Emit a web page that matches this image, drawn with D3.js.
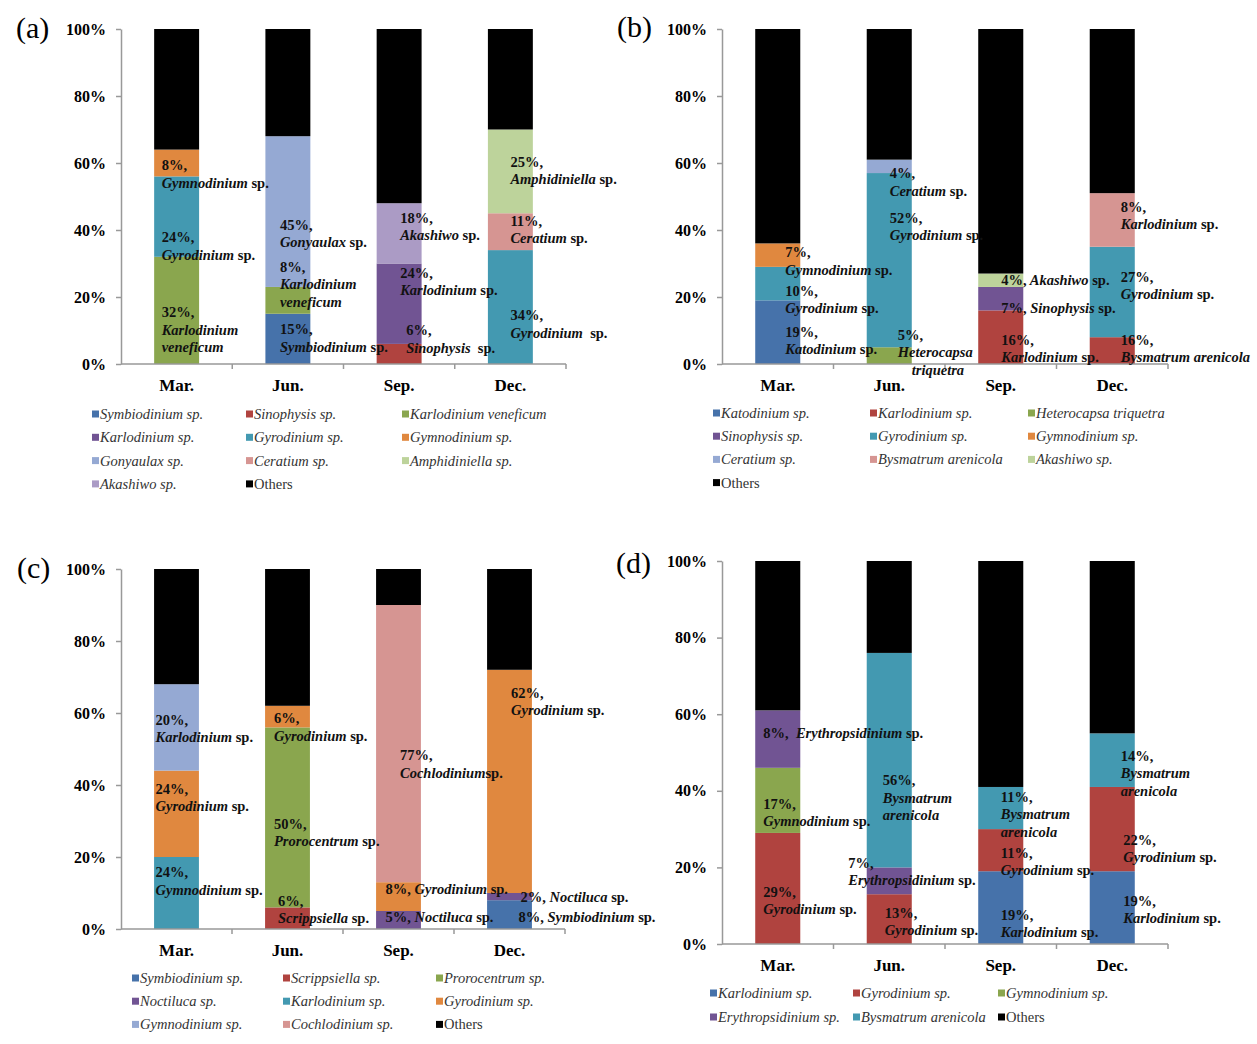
<!DOCTYPE html>
<html>
<head>
<meta charset="utf-8">
<script src="https://cdn.jsdelivr.net/npm/d3@7"></script>
<style>
  body { margin: 0; background: #fff; }
  text { font-family: "Liberation Serif", "Times New Roman", serif; white-space: pre; }
</style>
</head>
<body>
<svg id="chart" width="1257" height="1044"></svg>
<script>
// categories and axis ticks
const months = ["Mar.", "Jun.", "Sep.", "Dec."];
const yTicks = [0, 20, 40, 60, 80, 100];

// (a) one row per species, one value per month (%)
const speciesA = ["Symbiodinium sp.", "Sinophysis sp.", "Karlodinium veneficum", "Karlodinium sp.",
  "Gyrodinium sp.", "Gymnodinium sp.", "Gonyaulax sp.", "Ceratium sp.", "Amphidiniella sp.",
  "Akashiwo sp.", "Others"];
const valuesA = [
  [0, 15, 0, 0],
  [0, 0, 6, 0],
  [32, 8, 0, 0],
  [0, 0, 24, 0],
  [24, 0, 0, 34],
  [8, 0, 0, 0],
  [0, 45, 0, 0],
  [0, 0, 0, 11],
  [0, 0, 0, 25],
  [0, 0, 18, 0],
  [36, 32, 52, 30]
];

// (b)
const speciesB = ["Katodinium sp.", "Karlodinium sp.", "Heterocapsa triquetra", "Sinophysis sp.",
  "Gyrodinium sp.", "Gymnodinium sp.", "Ceratium sp.", "Bysmatrum arenicola", "Akashiwo sp.", "Others"];
const valuesB = [
  [19, 0, 0, 0],
  [0, 0, 16, 8],
  [0, 5, 0, 0],
  [0, 0, 7, 0],
  [10, 52, 0, 27],
  [7, 0, 0, 0],
  [0, 4, 0, 0],
  [0, 0, 0, 16],
  [0, 0, 4, 0],
  [64, 39, 73, 49]
];

// (c)
const speciesC = ["Symbiodinium sp.", "Scrippsiella sp.", "Prorocentrum sp.", "Noctiluca sp.",
  "Karlodinium sp.", "Gyrodinium sp.", "Gymnodinium sp.", "Cochlodinium sp.", "Others"];
const valuesC = [
  [0, 0, 0, 8],
  [0, 6, 0, 0],
  [0, 50, 0, 0],
  [0, 0, 5, 2],
  [20, 0, 0, 0],
  [24, 6, 8, 62],
  [24, 0, 0, 0],
  [0, 0, 77, 0],
  [32, 38, 10, 28]
];

// (d)
const speciesD = ["Karlodinium sp.", "Gyrodinium sp.", "Gymnodinium sp.", "Erythropsidinium sp.",
  "Bysmatrum arenicola", "Others"];
const valuesD = [
  [0, 0, 19, 19],
  [29, 13, 11, 22],
  [17, 0, 0, 0],
  [15, 7, 0, 0],
  [0, 56, 11, 14],
  [39, 24, 59, 45]
];

// label text placed on the bars: month index, level (%) of first line, lines
const notesA = [
  { m: 0, at: 59.4, dx: -15, lines: ["8%,", "Gymnodinium sp."] },
  { m: 0, at: 37.9, dx: -15, lines: ["24%,", "Gyrodinium sp."] },
  { m: 0, at: 15.5, dx: -15, lines: ["32%,", "Karlodinium", "veneficum"] },
  { m: 1, at: 41.5, dx: -8, lines: ["45%,", "Gonyaulax sp."] },
  { m: 1, at: 29.0, dx: -8, lines: ["8%,", "Karlodinium", "veneficum"] },
  { m: 1, at: 10.4, dx: -8, lines: ["15%,", "Symbiodinium sp."] },
  { m: 2, at: 43.6, dx: 1, lines: ["18%,", "Akashiwo sp."] },
  { m: 2, at: 27.2, dx: 1, lines: ["24%,", "Karlodinium sp."] },
  { m: 2, at: 10.1, dx: 7, lines: ["6%,", "Sinophysis  sp."] },
  { m: 3, at: 60.3, dx: 0, lines: ["25%,", "Amphidiniella sp."] },
  { m: 3, at: 42.7, dx: 0, lines: ["11%,", "Ceratium sp."] },
  { m: 3, at: 14.6, dx: 0, lines: ["34%,", "Gyrodinium  sp."] }
];
const notesB = [
  { m: 0, at: 33.4, dx: 7.5, lines: ["7%,", "Gymnodinium sp."] },
  { m: 0, at: 21.8, dx: 7.5, lines: ["10%,", "Gyrodinium sp."] },
  { m: 0, at: 9.6, dx: 7.5, lines: ["19%,", "Katodinium sp."] },
  { m: 1, at: 57.0, dx: 0.5, lines: ["4%,", "Ceratium sp."] },
  { m: 1, at: 43.6, dx: 0.5, lines: ["52%,", "Gyrodinium sp."] },
  { m: 1, at: 8.7, dx: 8.5, lines: ["5%,", "Heterocapsa", { t: "triquetra", dx: 14 }] },
  { m: 2, at: 25.1, dx: 0.5, lines: ["4%, Akashiwo sp."] },
  { m: 2, at: 16.7, dx: 0.5, lines: ["7%, Sinophysis sp."] },
  { m: 2, at: 7.2, dx: 0.5, lines: ["16%,", "Karlodinium sp."] },
  { m: 3, at: 46.9, dx: 8.5, lines: ["8%,", "Karlodinium sp."] },
  { m: 3, at: 26.0, dx: 8.5, lines: ["27%,", "Gyrodinium sp."] },
  { m: 3, at: 7.2, dx: 8.5, lines: ["16%,", "Bysmatrum arenicola"] }
];
const notesC = [
  { m: 0, at: 58.1, dx: -21, lines: ["20%,", "Karlodinium sp."] },
  { m: 0, at: 38.9, dx: -21, lines: ["24%,", "Gyrodinium sp."] },
  { m: 0, at: 15.8, dx: -21, lines: ["24%,", "Gymnodinium sp."] },
  { m: 1, at: 58.6, dx: -13.5, lines: ["6%,", "Gyrodinium sp."] },
  { m: 1, at: 29.2, dx: -13.5, lines: ["50%,", "Prorocentrum sp."] },
  { m: 1, at: 7.8, dx: -9.5, lines: ["6%,", "Scrippsiella sp."] },
  { m: 2, at: 48.3, dx: 1.5, lines: ["77%,", "Cochlodiniumsp."] },
  { m: 2, at: 11.1, dx: -13, lines: ["8%, Gyrodinium sp."] },
  { m: 2, at: 3.3, dx: -13, lines: ["5%, Noctiluca sp."] },
  { m: 3, at: 65.6, dx: 1.5, lines: ["62%,", "Gyrodinium sp."] },
  { m: 3, at: 8.9, dx: 11, lines: ["2%, Noctiluca sp."] },
  { m: 3, at: 3.3, dx: 9, lines: ["8%, Symbiodinium sp."] }
];
const notesD = [
  { m: 0, at: 55.1, dx: -14.5, lines: ["8%,  Erythropsidinium sp."] },
  { m: 0, at: 36.6, dx: -14.5, lines: ["17%,", "Gymnodinium sp."] },
  { m: 0, at: 13.6, dx: -14.5, lines: ["29%,", "Gyrodinium sp."] },
  { m: 1, at: 42.8, dx: -6.5, lines: ["56%,", "Bysmatrum", "arenicola"] },
  { m: 1, at: 21.2, dx: -41, lines: ["7%,", "Erythropsidinium sp."] },
  { m: 1, at: 8.2, dx: -4.5, lines: ["13%,", "Gyrodinium sp."] },
  { m: 2, at: 38.4, dx: 0, lines: ["11%,", "Bysmatrum", "arenicola"] },
  { m: 2, at: 23.8, dx: 0, lines: ["11%,", "Gyrodinium sp."] },
  { m: 2, at: 7.6, dx: 0, lines: ["19%,", "Karlodinium sp."] },
  { m: 3, at: 49.1, dx: 8.5, lines: ["14%,", "Bysmatrum", "arenicola"] },
  { m: 3, at: 27.2, dx: 11, lines: ["22%,", "Gyrodinium sp."] },
  { m: 3, at: 11.3, dx: 11, lines: ["19%,", "Karlodinium sp."] }
];

// series colours in legend order, Others is black
const palette = ["#4672AA", "#B0433F", "#8AA64E", "#715493", "#4399B1", "#E0883F",
  "#95A9D3", "#D69592", "#BDD39B", "#AB9BC5"];
const axisColor = "#999";

const panels = [
  { tag: "(a)", species: speciesA, values: valuesA, notes: notesA,
    box: { left: 121, right: 566, top: 29, bottom: 364 }, tagPos: [16, 38],
    legend: { cols: [92, 246, 402], y: 414, step: 23.3 } },
  { tag: "(b)", species: speciesB, values: valuesB, notes: notesB,
    box: { left: 722, right: 1168, top: 29, bottom: 364 }, tagPos: [617, 37],
    legend: { cols: [713, 870, 1028], y: 413, step: 23.2 } },
  { tag: "(c)", species: speciesC, values: valuesC, notes: notesC,
    box: { left: 121, right: 565, top: 569, bottom: 929 }, tagPos: [17, 578],
    legend: { cols: [132, 283, 436], y: 978, step: 23.2 } },
  { tag: "(d)", species: speciesD, values: valuesD, notes: notesD,
    box: { left: 722, right: 1168, top: 561, bottom: 944 }, tagPos: [616, 573],
    legend: { cols: [710, 853, 998], y: 993, step: 24 } }
];

const svg = d3.select("#chart");

// split "8%, Gymnodinium sp." into upright / italic pieces
function pieces(s) {
  const out = [];
  let rest = s;
  const pct = rest.match(/^(\d+%,)(.*)$/);
  if (pct) { out.push([pct[1], false]); rest = pct[2]; }
  const end = rest.match(/^(.*?)(sp\.?)$/);
  if (end) {
    if (end[1]) out.push([end[1], true]);
    out.push([end[2], false]);
  } else if (rest) {
    out.push([rest, true]);
  }
  return out;
}

panels.forEach(p => {
  const g = svg.append("g");
  const b = p.box;

  const x = d3.scaleBand().domain(months).range([b.left, b.right])
    .paddingInner(0.596).paddingOuter(0.298);
  const y = d3.scaleLinear().domain([0, 100]).range([b.bottom, b.top]);
  const color = (s, j) => s === "Others" ? "#000" : palette[j];

  const rows = months.map((m, i) => {
    const r = { month: m };
    p.species.forEach((s, j) => { r[s] = p.values[j][i]; });
    return r;
  });
  const series = d3.stack().keys(p.species)(rows);

  // bars
  g.selectAll("g.layer")
    .data(series)
    .enter()
    .append("g")
    .attr("fill", (d, j) => color(d.key, j))
    .selectAll("rect")
    .data(d => d.filter(v => v[1] - v[0] > 0))
    .enter()
    .append("rect")
    .attr("x", d => x(d.data.month))
    .attr("y", d => y(d[1]))
    .attr("width", x.bandwidth())
    .attr("height", d => y(d[0]) - y(d[1]));

  // y axis
  const ya = g.append("g")
    .attr("transform", `translate(${b.left},0)`)
    .call(d3.axisLeft(y).tickValues(yTicks).tickSize(5).tickSizeOuter(0).tickPadding(10)
      .tickFormat(d => d + "%"));
  ya.selectAll("path, line").attr("stroke", axisColor).attr("stroke-width", 1.5);
  ya.selectAll("text").attr("fill", "#000").attr("font-size", 16).attr("font-weight", "bold")
    .attr("font-family", '"Liberation Serif", serif');

  // x axis: line, ticks between categories, month labels
  const y0 = y(0);
  g.append("line")
    .attr("x1", b.left).attr("x2", b.right).attr("y1", y0).attr("y2", y0)
    .attr("stroke", axisColor).attr("stroke-width", 1.5);
  g.selectAll("line.xtick")
    .data(months)
    .enter()
    .append("line")
    .attr("x1", d => x(d) + x.bandwidth() / 2 + x.step() / 2)
    .attr("x2", d => x(d) + x.bandwidth() / 2 + x.step() / 2)
    .attr("y1", y0).attr("y2", y0 + 5)
    .attr("stroke", axisColor).attr("stroke-width", 1.5);
  g.selectAll("text.month")
    .data(months)
    .enter()
    .append("text")
    .attr("x", d => x(d) + x.bandwidth() / 2)
    .attr("y", y0 + 27)
    .attr("text-anchor", "middle")
    .attr("font-size", 17)
    .attr("font-weight", "bold")
    .text(d => d);

  // panel tag
  g.append("text")
    .attr("x", p.tagPos[0]).attr("y", p.tagPos[1])
    .attr("font-size", 30)
    .text(p.tag);

  // labels on bars
  p.notes.forEach(n => {
    const cx = x(months[n.m]) + x.bandwidth() / 2 + n.dx;
    const t = g.append("text")
      .attr("font-size", 14.5)
      .attr("font-weight", "bold")
      .attr("fill", "#111");
    n.lines.forEach((ln, k) => {
      const str = typeof ln === "string" ? ln : ln.t;
      const ldx = typeof ln === "string" ? 0 : ln.dx;
      pieces(str).forEach(([s, it], q) => {
        const ts = t.append("tspan").text(s).attr("font-style", it ? "italic" : "normal");
        if (q === 0) {
          ts.attr("x", cx + ldx).attr("y", y(n.at) + 5 + k * 17.5);
        }
      });
    });
  });

  // legend
  const lg = g.append("g");
  p.species.forEach((s, j) => {
    const col = j % 3, row = Math.floor(j / 3);
    const lx = p.legend.cols[col], ly = p.legend.y + row * p.legend.step;
    lg.append("rect")
      .attr("x", lx).attr("y", ly - 3.5)
      .attr("width", 7).attr("height", 7)
      .attr("fill", color(s, j));
    lg.append("text")
      .attr("x", lx + 8).attr("y", ly + 5)
      .attr("font-size", 14.5)
      .attr("font-style", s === "Others" ? "normal" : "italic")
      .attr("fill", "#333")
      .text(s);
  });
});
</script>
</body>
</html>
